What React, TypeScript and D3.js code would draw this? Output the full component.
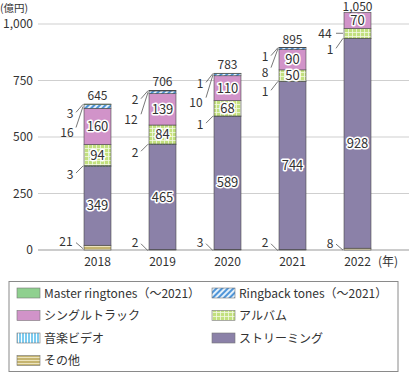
import React from 'react';
import * as d3 from 'd3';

const years = ['2018', '2019', '2020', '2021', '2022'];
const other = [21, 2, 3, 2, 8];
const streaming = [349, 465, 589, 744, 928];
const musicVideo = [3, 2, 1, 1, 1];
const album = [94, 84, 68, 50, 44];
const singleTrack = [160, 139, 110, 90, 70];
const ringback = [16, 12, 10, 8, 0];
const master = [3, 2, 1, 1, 0];
const totals = ['645', '706', '783', '895', '1,050'];
const yTicks = [0, 250, 500, 750, 1000];

const seriesKeys = ['other', 'streaming', 'video', 'album', 'single', 'ringback', 'master'];
const seriesValues: Record<string, number[]> = {
  other, streaming, video: musicVideo, album, single: singleTrack, ringback, master,
};
const seriesFill: Record<string, string> = {
  other: 'url(#pOther)', streaming: '#8b81a8', video: 'url(#pVideo)', album: 'url(#pAlbum)',
  single: '#d193c9', ringback: 'url(#pRing)', master: '#8fd08f',
};

// legend in reading order
const legendItems = [
  { key: 'master', label: 'Master ringtones（～2021）' },
  { key: 'ringback', label: 'Ringback tones（～2021）' },
  { key: 'single', label: 'シングルトラック' },
  { key: 'album', label: 'アルバム' },
  { key: 'video', label: '音楽ビデオ' },
  { key: 'streaming', label: 'ストリーミング' },
  { key: 'other', label: 'その他' },
];

// placement of small-value labels (offset from the bar's left edge / segment middle)
const callouts = [
  { y: 0, key: 'master', dx: 14, dy: 9 }, { y: 0, key: 'ringback', dx: 17, dy: 26 },
  { y: 0, key: 'video', dx: 14, dy: 8 }, { y: 0, key: 'other', dx: 18, dy: -6 },
  { y: 1, key: 'master', dx: 14, dy: 9 }, { y: 1, key: 'ringback', dx: 18, dy: 27 },
  { y: 1, key: 'video', dx: 14, dy: 8 }, { y: 1, key: 'other', dx: 14, dy: -7 },
  { y: 2, key: 'master', dx: 14, dy: 10 }, { y: 2, key: 'ringback', dx: 18, dy: 28 },
  { y: 2, key: 'video', dx: 14, dy: 8 }, { y: 2, key: 'other', dx: 14, dy: -7 },
  { y: 3, key: 'master', dx: 14, dy: 9 }, { y: 3, key: 'ringback', dx: 14, dy: 24 },
  { y: 3, key: 'video', dx: 14, dy: 10 }, { y: 3, key: 'other', dx: 14, dy: -7 },
  { y: 4, key: 'album', dx: 19, dy: 0 }, { y: 4, key: 'video', dx: 14, dy: 11 },
  { y: 4, key: 'other', dx: 14, dy: -6 },
];

const font = '"Noto Sans CJK JP", "Noto Sans", sans-serif';

const App: React.FC = () => {
  const width = 409;
  const height = 374;
  const y = d3.scaleLinear().domain([0, 1000]).range([250, 24]);
  const x = d3.scaleBand<string>().domain(years).range([65, 390]).paddingInner(0.585).paddingOuter(0.2925);

  const rows = years.map((yr, i) => {
    const r: Record<string, number | string> = { year: yr };
    seriesKeys.forEach((k) => { r[k] = seriesValues[k][i]; });
    return r;
  });
  const stacked = d3.stack<Record<string, number | string>>().keys(seriesKeys)(rows as any);
  const seg = (key: string, i: number) => stacked.find((s) => s.key === key)![i];

  return (
    <div style={{ position: 'absolute', left: 0, top: 0 }}>
      <svg width={width} height={height} style={{ display: 'block', fontFamily: font }}>
        <defs>
          <pattern id="pRing" width="4" height="4" patternUnits="userSpaceOnUse" patternTransform="rotate(45)">
            <rect width="4" height="4" fill="#e3f0fa" />
            <rect width="2" height="4" fill="#4f95d8" />
          </pattern>
          <pattern id="pAlbum" width="4" height="4" patternUnits="userSpaceOnUse">
            <rect width="4" height="4" fill="#c2e07e" />
            <path d="M0 0.5H4M0.5 0V4" stroke="#f3f9e3" strokeWidth="0.8" />
          </pattern>
          <pattern id="pVideo" width="3" height="3" patternUnits="userSpaceOnUse">
            <rect width="3" height="3" fill="#7ccbef" />
            <path d="M0.5 0V3" stroke="#ffffff" strokeWidth="1" />
          </pattern>
          <pattern id="pOther" width="3" height="3" patternUnits="userSpaceOnUse">
            <rect width="3" height="3" fill="#c5b46f" />
            <path d="M0 0.5H3" stroke="#ece3bd" strokeWidth="1" />
          </pattern>
        </defs>

        {/* grid */}
        {yTicks.map((t) => (
          <g key={t}>
            <line x1={38} x2={409} y1={y(t)} y2={y(t)} stroke={t === 0 ? '#999' : '#cfcfcf'} strokeWidth={1} />
            <text x={33} y={y(t) + 4} textAnchor="end" fontSize={12} fill="#333">{d3.format(',')(t)}</text>
          </g>
        ))}
        <text x={0} y={12} fontSize={10.5} fill="#333">(億円)</text>

        {/* bars */}
        {years.map((yr, i) => (
          <g key={yr}>
            {seriesKeys.map((k) => {
              const s = seg(k, i);
              if (s[1] - s[0] <= 0) return null;
              return (
                <rect key={k} x={x(yr)} width={x.bandwidth()} y={y(s[1])} height={y(s[0]) - y(s[1])}
                  fill={seriesFill[k]} stroke="#4a4a4a" strokeWidth={0.6} />
              );
            })}
            <text x={x(yr)! + x.bandwidth() / 2} y={Math.max(11, y(stacked[stacked.length - 1][i][1]) - 4)}
              textAnchor="middle" fontSize={12} fill="#333">{totals[i]}</text>
            <text x={x(yr)! + x.bandwidth() / 2} y={266} textAnchor="middle" fontSize={12} fill="#333">{yr}</text>
          </g>
        ))}
        <text x={388} y={266} textAnchor="middle" fontSize={12} fill="#333">(年)</text>

        {/* values inside bars */}
        {years.map((yr, i) => seriesKeys.map((k) => {
          const v = seriesValues[k][i];
          if (v < 50) return null;
          const s = seg(k, i);
          return (
            <text key={yr + k} x={x(yr)! + x.bandwidth() / 2} y={(y(s[0]) + y(s[1])) / 2 + 4.5}
              textAnchor="middle" fontSize={13} fill="#333" stroke="#fff" strokeWidth={3}
              strokeLinejoin="round" style={{ paintOrder: 'stroke' }}>{v}</text>
          );
        }))}

        {/* callouts for small values */}
        {callouts.map((c, j) => {
          const s = seg(c.key, c.y);
          const x0 = x(years[c.y])!;
          const ay = (y(s[0]) + y(s[1])) / 2;
          const lx = x0 - c.dx;
          const ly = ay + c.dy;
          const sy = c.dy === 0 ? ay : ly + (c.dy > 15 ? -5 : c.dy > 0 ? -1 : 1);
          return (
            <g key={j}>
              <line x1={x0 - 8} y1={sy} x2={x0 - 1} y2={c.dy === 0 ? ay : ay + (c.dy > 0 ? 0 : 1)}
                stroke="#555" strokeWidth={0.8} />
              <text x={lx} y={ly + 4.5} textAnchor="middle" fontSize={12} fill="#333">{seriesValues[c.key][c.y]}</text>
            </g>
          );
        })}

        {/* legend */}
        <rect x={9} y={281.5} width={389} height={90} fill="#fff" stroke="#8a8a8a" strokeWidth={1} />
        {legendItems.map((it, j) => {
          const col = j % 2;
          const row = Math.floor(j / 2);
          const lx = col === 0 ? 17 : 212;
          const ly = 293 + row * 22.5;
          return (
            <g key={it.key}>
              <rect x={lx} y={ly - 5} width={23} height={10} fill={seriesFill[it.key]} stroke="#777" strokeWidth={0.6} />
              <text x={lx + 27} y={ly + 4.5} fontSize={12} fill="#333">{it.label}</text>
            </g>
          );
        })}
      </svg>
    </div>
  );
};

export default App;
